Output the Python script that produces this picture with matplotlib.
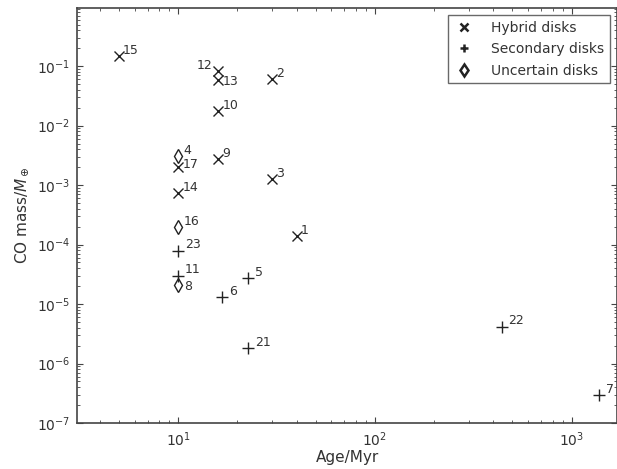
import matplotlib
matplotlib.use("Agg")
import matplotlib.pyplot as plt

# Hybrid disks
hyb_ids = ["15", "12", "13", "2", "10", "17", "9", "3", "14", "1"]
hyb_age = [5.0, 16, 16, 30, 16, 10, 16, 30, 10, 40]
hyb_mass = [0.15, 0.082, 0.058, 0.06, 0.0175, 0.002, 0.0027, 0.00126, 0.00074, 1.4e-4]

# Secondary disks
sec_ids = ["23", "11", "5", "6", "21", "22", "7"]
sec_age = [10, 10, 22.7, 16.7, 22.7, 440, 1380]
sec_mass = [7.8e-5, 2.95e-5, 2.7e-5, 1.3e-5, 1.8e-6, 4.1e-6, 2.9e-7]

# Uncertain disks
unc_ids = ["4", "16", "8"]
unc_age = [10, 10, 10]
unc_mass = [0.0031, 2.0e-4, 2.1e-5]

plt.rcParams['font.family'] = ['DejaVu Sans']
fig = plt.figure(figsize=(6.17, 4.69), dpi=100)
ax = fig.add_axes([77/617, 1-423/469, 540/617, 415/469])

tc = "#333333"
mc = "#222222"
ax.plot(hyb_age, hyb_mass, ls="none", marker="x", ms=7, mew=1.0, color=mc, label="Hybrid disks")
ax.plot(sec_age, sec_mass, ls="none", marker="+", ms=8, mew=1.0, color=mc, label="Secondary disks")
ax.plot(unc_age, unc_mass, ls="none", marker="d", ms=7.5, mew=1.0, mfc="none", color=mc, label="Uncertain disks")

ax.set_xscale("log")
ax.set_yscale("log")
ax.set_xlim(3.06, 1700)
ax.set_ylim(1e-7, 0.95)

def lab(ids, xs, ys, dx, dy):
    for i, x, y in zip(ids, xs, ys):
        if i == "12":
            ax.annotate(i, (x, y), xytext=(-4, 4), textcoords="offset points",
                        fontsize=9, color=tc, ha="right", va="center")
        elif i in ("13", "8"):
            ax.annotate(i, (x, y), xytext=(dx, -1), textcoords="offset points",
                        fontsize=9, color=tc, ha="left", va="center")
        elif i == "17":
            ax.annotate(i, (x, y), xytext=(dx, 2), textcoords="offset points",
                        fontsize=9, color=tc, ha="left", va="center")
        else:
            ax.annotate(i, (x, y), xytext=(dx, dy), textcoords="offset points",
                        fontsize=9, color=tc, ha="left", va="center")

lab(hyb_ids, hyb_age, hyb_mass, 3, 4)
lab(sec_ids, sec_age, sec_mass, 5, 4.5)
lab(unc_ids, unc_age, unc_mass, 4, 4)

ax.set_xlabel("Age/Myr", fontsize=11, color=tc, labelpad=1)
ax.set_ylabel(r"CO mass/$M_\oplus$", fontsize=11, color=tc)
ax.tick_params(which="both", direction="in", top=True, right=True, colors="#444444",
               labelcolor=tc, labelsize=10)
ax.tick_params(which="major", length=4, pad=5)
ax.tick_params(which="minor", length=2)
for s in ax.spines.values():
    s.set_color("#444444")
    s.set_linewidth(1.2)

leg = ax.legend(loc="upper right", fontsize=10, frameon=True, fancybox=False,
                edgecolor="#444444", handlelength=1.5, handletextpad=1.2,
                borderpad=0.4, labelspacing=0.55, borderaxespad=0.5)
leg.get_frame().set_linewidth(1.0)
for t in leg.get_texts():
    t.set_color(tc)
for h in leg.legend_handles:
    h.set_markeredgewidth(1.8)
    h.set_markersize(6)

fig.savefig("out.png", dpi=100)
